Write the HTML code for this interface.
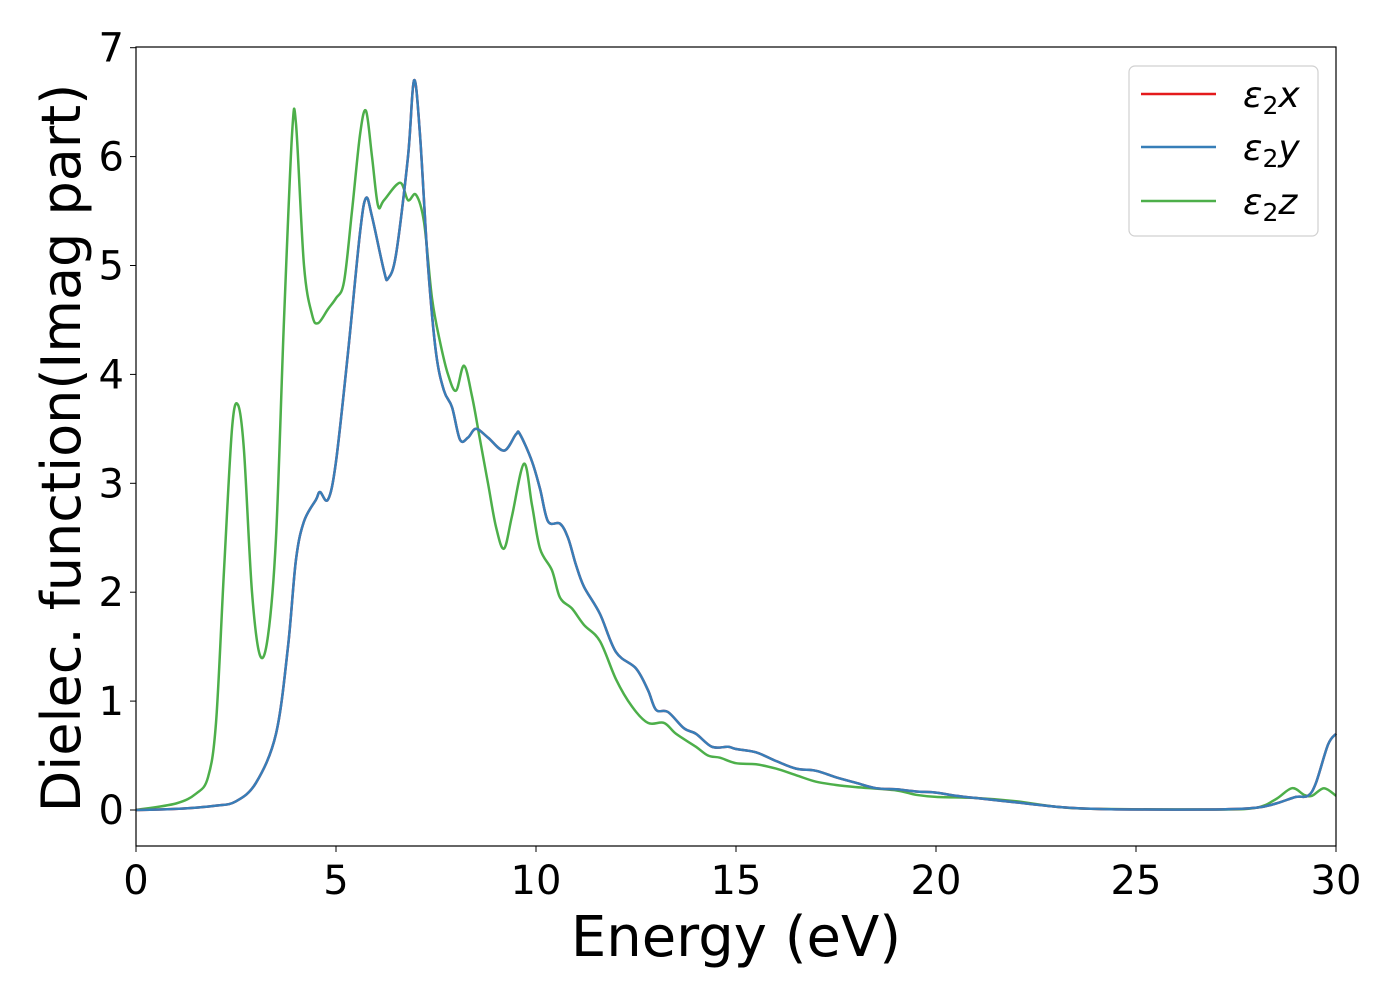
<!DOCTYPE html>
<html><head><meta charset="utf-8"><style>
body{margin:0;background:#fff;}
svg text{font-family:"DejaVu Sans","Liberation Sans",sans-serif;fill:#000;}
</style></head><body>
<svg id="chart" width="1400" height="1000" viewBox="0 0 1400 1000" xmlns="http://www.w3.org/2000/svg">
<rect x="0" y="0" width="1400" height="1000" fill="#fff"/>
<g id="series"></g>
<rect x="136" y="47" width="1200" height="799" fill="none" stroke="#000" stroke-width="1.2"/>
<g id="xticks"></g>
<g id="yticks"></g>
<text x="736" y="956" font-size="56" text-anchor="middle">Energy (eV)</text>
<text transform="translate(80,448) rotate(-90)" font-size="54" text-anchor="middle">Dielec. function(Imag part)</text>
<g>
<rect x="1129" y="66" width="189" height="170" rx="6" fill="#fff" stroke="#d0d0d0" stroke-width="1.2"/>
<line x1="1141" y1="94" x2="1216" y2="94" stroke="#e41a1c" stroke-width="2.5"/>
<text x="1243" y="107" font-size="36" font-style="italic">ε<tspan font-style="normal" font-size="25" dy="7">2</tspan><tspan dy="-7">x</tspan></text>
<line x1="1141" y1="147" x2="1216" y2="147" stroke="#377eb8" stroke-width="2.5"/>
<text x="1243" y="160" font-size="36" font-style="italic">ε<tspan font-style="normal" font-size="25" dy="7">2</tspan><tspan dy="-7">y</tspan></text>
<line x1="1141" y1="201" x2="1216" y2="201" stroke="#4daf4a" stroke-width="2.5"/>
<text x="1243" y="214" font-size="36" font-style="italic">ε<tspan font-style="normal" font-size="25" dy="7">2</tspan><tspan dy="-7">z</tspan></text>
</g>
</svg>
<script>
const xyEnergy=[0,1,2,2.5,3,3.5,3.8,4.0,4.2,4.5,4.6,4.8,5.0,5.3,5.6,5.75,5.9,6.2,6.3,6.5,6.8,6.95,7.1,7.3,7.5,7.7,7.9,8.1,8.3,8.5,8.8,9.2,9.5,9.6,9.9,10.1,10.3,10.6,10.8,11.0,11.2,11.6,12,12.5,12.8,13,13.3,13.7,14,14.4,14.8,15,15.5,16,16.5,17,17.5,18,18.5,19,19.5,20,20.5,21,22,23,24,25,27,28,28.5,29,29.3,29.5,29.8,30];
const eps2x=[0,0.01,0.04,0.08,0.25,0.7,1.5,2.3,2.65,2.85,2.92,2.85,3.2,4.2,5.3,5.62,5.45,4.95,4.88,5.1,6.0,6.7,6.2,5.0,4.2,3.85,3.7,3.4,3.42,3.5,3.42,3.3,3.45,3.45,3.2,2.95,2.65,2.63,2.5,2.25,2.05,1.8,1.45,1.3,1.1,0.92,0.9,0.75,0.7,0.58,0.58,0.56,0.53,0.45,0.38,0.36,0.3,0.25,0.2,0.19,0.17,0.16,0.13,0.11,0.07,0.03,0.01,0.005,0.005,0.02,0.06,0.12,0.13,0.25,0.6,0.7];
const eps2y=eps2x.slice();
const zEnergy=[0,1,1.5,1.8,2.0,2.2,2.4,2.55,2.7,2.9,3.1,3.3,3.5,3.7,3.9,4.0,4.2,4.4,4.55,4.8,5.0,5.2,5.4,5.6,5.75,5.9,6.05,6.2,6.6,6.8,7.0,7.2,7.4,7.6,7.8,8.0,8.2,8.4,8.6,8.8,9.0,9.2,9.4,9.7,9.9,10.1,10.4,10.6,10.9,11.2,11.6,12,12.4,12.8,13.2,13.5,14,14.3,14.6,15,15.5,16,16.5,17,17.5,18,19,19.5,20,21,22,23,24,27,28,28.5,28.9,29.2,29.4,29.7,30];
const eps2z=[0,0.06,0.15,0.3,0.8,2.2,3.5,3.72,3.3,2.0,1.42,1.6,2.5,4.5,6.2,6.3,5.0,4.55,4.47,4.6,4.7,4.85,5.5,6.2,6.42,6.0,5.55,5.6,5.76,5.6,5.65,5.4,4.7,4.3,4.0,3.85,4.08,3.8,3.4,3.0,2.6,2.4,2.7,3.18,2.8,2.4,2.2,1.95,1.85,1.7,1.55,1.2,0.95,0.8,0.8,0.7,0.58,0.5,0.48,0.43,0.42,0.38,0.32,0.26,0.23,0.21,0.18,0.14,0.12,0.11,0.08,0.03,0.01,0.005,0.02,0.1,0.2,0.14,0.13,0.2,0.13];
const xTicks=[0,5,10,15,20,25,30];
const yTicks=[0,1,2,3,4,5,6,7];

const NS="http://www.w3.org/2000/svg";
const xS=v=>136+v*40;
const yS=v=>810-v*108.9;
function pathFor(xs,ys){
  const p=xs.map((x,i)=>[xS(x),yS(ys[i])]);
  let d="M"+p[0][0]+","+p[0][1];
  for(let i=0;i<p.length-1;i++){
    const p0=p[Math.max(0,i-1)],p1=p[i],p2=p[i+1],p3=p[Math.min(p.length-1,i+2)];
    const c1x=p1[0]+(p2[0]-p0[0])/6,c1y=p1[1]+(p2[1]-p0[1])/6;
    const c2x=p2[0]-(p3[0]-p1[0])/6,c2y=p2[1]-(p3[1]-p1[1])/6;
    d+=" C"+c1x.toFixed(1)+","+c1y.toFixed(1)+" "+c2x.toFixed(1)+","+c2y.toFixed(1)+" "+p2[0].toFixed(1)+","+p2[1].toFixed(1);
  }
  return d;
}
const g=document.getElementById("series");
[["series-eps2z",zEnergy,eps2z,"#4daf4a"],["series-eps2x",xyEnergy,eps2x,"#e41a1c"],["series-eps2y",xyEnergy,eps2y,"#377eb8"]].forEach(s=>{
  const el=document.createElementNS(NS,"path");
  
  
  el.setAttribute("d",pathFor(s[1],s[2]));
  el.setAttribute("fill","none");
  el.setAttribute("stroke",s[3]);
  el.setAttribute("stroke-width","2.5");
  g.appendChild(el);
});
const xt=document.getElementById("xticks");
xTicks.forEach(v=>{
  const l=document.createElementNS(NS,"line");
  
  
  l.setAttribute("x1",xS(v));l.setAttribute("x2",xS(v));l.setAttribute("y1",846);l.setAttribute("y2",852);l.setAttribute("stroke","#000");
  xt.appendChild(l);
  const t=document.createElementNS(NS,"text");
  
  
  t.setAttribute("x",xS(v));t.setAttribute("y",894);t.setAttribute("font-size","40");t.setAttribute("text-anchor","middle");
  t.textContent=v;xt.appendChild(t);
});
const yt=document.getElementById("yticks");
yTicks.forEach(v=>{
  const l=document.createElementNS(NS,"line");
  
  
  l.setAttribute("x1",130);l.setAttribute("x2",136);l.setAttribute("y1",yS(v));l.setAttribute("y2",yS(v));l.setAttribute("stroke","#000");
  yt.appendChild(l);
  const t=document.createElementNS(NS,"text");
  
  
  t.setAttribute("x",124);t.setAttribute("y",yS(v)+14);t.setAttribute("font-size","40");t.setAttribute("text-anchor","end");
  t.textContent=v;yt.appendChild(t);
});
</script>
</body></html>
